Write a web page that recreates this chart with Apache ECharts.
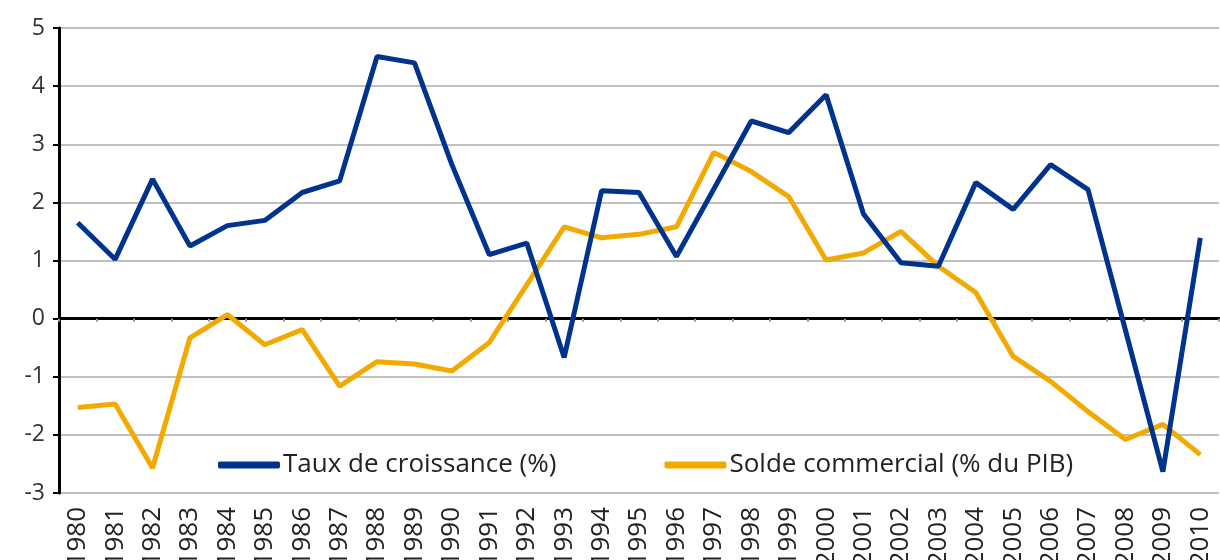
<!DOCTYPE html>
<html>
<head>
<meta charset="utf-8">
<script src="https://cdn.jsdelivr.net/npm/echarts@6/dist/echarts.min.js"></script>
<style>
  html, body { margin: 0; padding: 0; background: #fff; }
  #chart { width: 1220px; height: 560px; }
</style>
</head>
<body>
<div id="chart"></div>
<script>
// années
var years = ['1980','1981','1982','1983','1984','1985','1986','1987','1988','1989',
  '1990','1991','1992','1993','1994','1995','1996','1997','1998','1999',
  '2000','2001','2002','2003','2004','2005','2006','2007','2008','2009','2010'];

// Taux de croissance (%)
var croissance = [1.65, 1.02, 2.4, 1.25, 1.6, 1.69, 2.17, 2.37, 4.51, 4.4,
  2.65, 1.1, 1.3, -0.67, 2.2, 2.17, 1.07, 2.23, 3.4, 3.2,
  3.85, 1.8, 0.96, 0.9, 2.34, 1.88, 2.65, 2.22, -0.2, -2.63, 1.39];

// Solde commercial (% du PIB)
var solde = [-1.53, -1.47, -2.57, -0.33, 0.07, -0.45, -0.19, -1.16, -0.74, -0.78,
  -0.9, -0.41, 0.58, 1.58, 1.39, 1.45, 1.58, 2.86, 2.53, 2.1,
  1.01, 1.13, 1.5, 0.9, 0.45, -0.65, -1.08, -1.6, -2.08, -1.82, -2.34];

var yTicks = { min: -3, max: 5, interval: 1 };

var chart = echarts.init(document.getElementById('chart'));

var option = {
  backgroundColor: '#fff',
  animation: false,
  textStyle: { fontFamily: 'Open Sans' },
  grid: { left: 59, right: 1, top: 28, bottom: 67, outerBoundsMode: 'none', containLabel: false },
  legend: {
    left: 213,
    top: 447,
    itemWidth: 62,
    itemHeight: 7,
    itemGap: 108,
    icon: 'roundRect',
    textStyle: { fontSize: 26, color: '#222', fontFamily: 'Open Sans', padding: [0, 0, 0, -2] },
    data: ['Taux de croissance (%)', 'Solde commercial (% du PIB)']
  },
  xAxis: [
    {
      // axe à zéro
      type: 'category',
      data: years,
      position: 'top',
      boundaryGap: true,
      axisLine: { onZero: true, lineStyle: { color: '#000', width: 3 } },
      axisTick: { show: true, inside: true, length: 3, lineStyle: { color: '#999', width: 2 } },
      axisLabel: { show: false },
      splitLine: { show: false }
    },
    {
      // étiquettes en bas
      type: 'category',
      data: years,
      position: 'bottom',
      boundaryGap: true,
      axisLine: { show: false, onZero: false },
      axisTick: { show: false },
      axisLabel: { rotate: 90, fontSize: 26, color: '#222', margin: 14, interval: 0 },
      splitLine: { show: false }
    }
  ],
  yAxis: {
    type: 'value',
    min: yTicks.min,
    max: yTicks.max,
    interval: yTicks.interval,
    axisLine: { show: true, lineStyle: { color: '#000', width: 3 } },
    axisTick: { show: true, length: 6, lineStyle: { color: '#000', width: 2 } },
    axisLabel: { fontSize: 23, color: '#333', margin: 14 },
    splitLine: { show: true, lineStyle: { color: '#c0c0c0', width: 2 } }
  },
  series: [
    {
      name: 'Taux de croissance (%)',
      type: 'line',
      xAxisIndex: 0,
      data: croissance,
      symbol: 'none',
      z: 3,
      lineStyle: { color: '#00338d', width: 5 },
      itemStyle: { color: '#00338d' }
    },
    {
      name: 'Solde commercial (% du PIB)',
      type: 'line',
      xAxisIndex: 0,
      data: solde,
      symbol: 'none',
      z: 2,
      lineStyle: { color: '#f2a900', width: 5 },
      itemStyle: { color: '#f2a900' }
    }
  ]
};

chart.setOption(option);
</script>
</body>
</html>
